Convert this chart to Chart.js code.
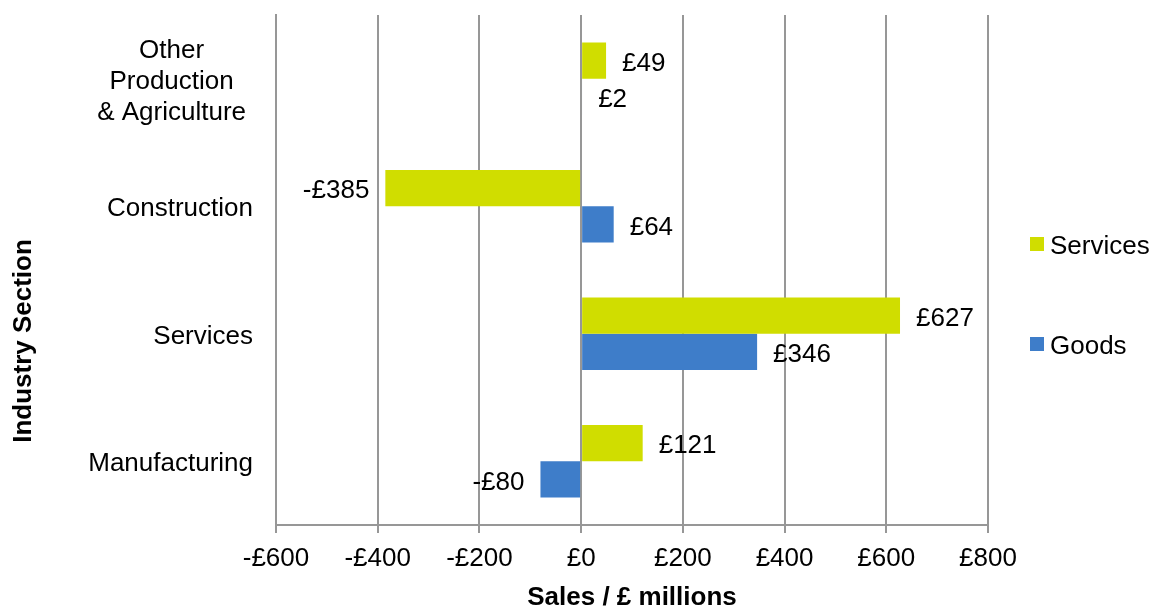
<!DOCTYPE html>
<html>
<head>
<meta charset="utf-8">
<script src="https://cdn.jsdelivr.net/npm/chart.js@4/dist/chart.umd.min.js"></script>
<style>
    html, body { margin: 0; padding: 0; background: #fff; }
    #wrap { width: 1153px; height: 608px; }
</style>
</head>
<body>
<div id="wrap"><canvas id="salesChart" width="1153" height="608"></canvas></div>
<script>
// Данные графика
const categories = [["Other", "Production", "& Agriculture"], "Construction", "Services", "Manufacturing"];
const servicesValues = [49, -385, 627, 121];
const goodsValues = [2, 64, 346, -80];
const seriesNames = ["Services", "Goods"];
const xTicks = [-600, -400, -200, 0, 200, 400, 600, 800];

const FONT = "'Liberation Sans', Arial, sans-serif";
const GRID = "#979797";
const colors = ["#d0dd00", "#3e7dc9"];
const TEXT_DY = 3; // небольшой сдвиг текста вниз

function money(v) {
    return (v < 0 ? "-£" : "£") + Math.abs(v);
}

// подписи значений у концов столбцов
const barLabels = {
    id: "barLabels",
    afterDatasetsDraw(chart) {
        const ctx = chart.ctx;
        ctx.save();
        ctx.font = "26px " + FONT;
        ctx.fillStyle = "#000";
        ctx.textBaseline = "middle";
        chart.data.datasets.forEach((ds, di) => {
            const meta = chart.getDatasetMeta(di);
            meta.data.forEach((bar, i) => {
                const v = ds.data[i];
                if (v < 0) {
                    ctx.textAlign = "right";
                    ctx.fillText(money(v), bar.x - 16, bar.y + TEXT_DY);
                } else {
                    ctx.textAlign = "left";
                    ctx.fillText(money(v), bar.x + 16, bar.y + TEXT_DY);
                }
            });
        });
        ctx.restore();
    }
};

// подписи категорий, заголовок оси Y и легенда
const sideText = {
    id: "sideText",
    afterDraw(chart) {
        const ctx = chart.ctx;
        const y = chart.scales.y;
        ctx.save();
        ctx.fillStyle = "#000";
        ctx.textBaseline = "middle";
        ctx.font = "26px " + FONT;
        const right = y.right - 23;
        categories.forEach((c, i) => {
            const cy = y.getPixelForValue(i) + TEXT_DY;
            if (Array.isArray(c)) {
                const w = Math.max(...c.map(l => ctx.measureText(l).width));
                const cx = right - 7 - w / 2;
                ctx.textAlign = "center";
                c.forEach((line, k) => {
                    ctx.fillText(line, cx, cy + (k - (c.length - 1) / 2) * 31);
                });
            } else {
                ctx.textAlign = "right";
                ctx.fillText(c, right, cy);
            }
        });

        // заголовок оси Y
        ctx.save();
        ctx.font = "bold 26px " + FONT;
        ctx.translate(24, 341);
        ctx.rotate(-Math.PI / 2);
        ctx.textAlign = "center";
        ctx.fillText("Industry Section", 0, 0);
        ctx.restore();

        // легенда
        ctx.font = "26px " + FONT;
        ctx.textAlign = "left";
        chart.data.datasets.forEach((ds, di) => {
            const ly = 244 + di * 100;
            ctx.fillStyle = ds.backgroundColor;
            ctx.fillRect(1030, ly - 7, 14, 14);
            ctx.fillStyle = "#000";
            ctx.fillText(ds.label, 1050, ly + TEXT_DY);
        });
        ctx.restore();
    }
};

new Chart(document.getElementById("salesChart").getContext("2d"), {
    type: "bar",
    data: {
        labels: categories,
        datasets: [
            { label: seriesNames[0], data: servicesValues, backgroundColor: colors[0] },
            { label: seriesNames[1], data: goodsValues, backgroundColor: colors[1] }
        ]
    },
    options: {
        indexAxis: "y",
        responsive: false,
        animation: false,
        datasets: { bar: { barPercentage: 1, categoryPercentage: 0.57, borderWidth: 0 } },
        layout: { padding: { top: 15, right: 165, left: 0, bottom: 0 } },
        plugins: { legend: { display: false }, tooltip: { enabled: false } },
        scales: {
            x: {
                min: xTicks[0],
                max: xTicks[xTicks.length - 1],
                afterBuildTicks: s => { s.ticks = xTicks.map(v => ({ value: v })); },
                afterFit: s => { s.height = 83; },
                grid: { color: GRID, lineWidth: 2, tickLength: 8, tickColor: GRID },
                border: { color: GRID, width: 2 },
                ticks: {
                    font: { family: FONT, size: 26, lineHeight: 1 },
                    color: "#000",
                    padding: 13,
                    maxRotation: 0,
                    autoSkip: false,
                    callback: v => money(v)
                },
                title: {
                    display: true,
                    text: "Sales / £ millions",
                    color: "#000",
                    font: { family: FONT, size: 26, weight: "bold", lineHeight: 1 },
                    padding: { top: 0, bottom: -3 }
                }
            },
            y: {
                afterFit: s => { s.width = 276; },
                grid: { display: false },
                border: { color: GRID, width: 2 },
                ticks: { display: false }
            }
        }
    },
    plugins: [barLabels, sideText]
});
</script>
</body>
</html>
